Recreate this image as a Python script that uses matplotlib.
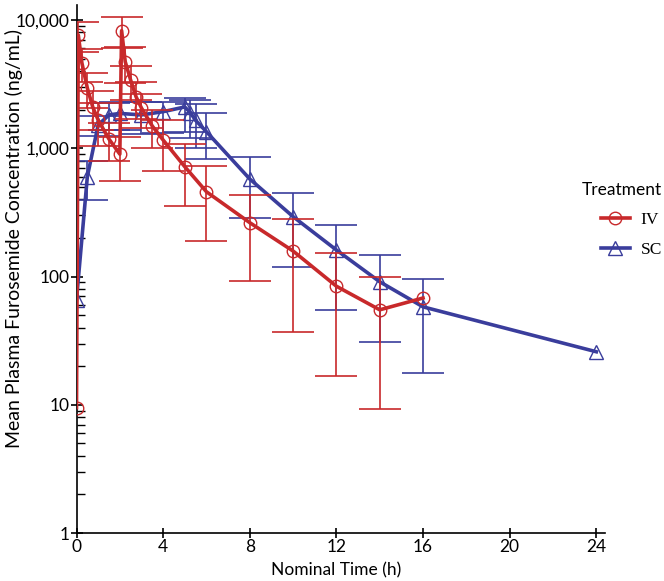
import matplotlib
matplotlib.use("Agg")
import matplotlib.pyplot as plt
import numpy as np
from matplotlib.ticker import FixedLocator, FixedFormatter, LogLocator, NullFormatter
from matplotlib.lines import Line2D

# ---- data ----
iv_time = [0, 0.083, 0.25, 0.5, 0.75, 1, 1.5, 2, 2.083, 2.25, 2.5, 2.75, 3, 3.5, 4, 5, 6, 8, 10, 12, 14, 16]
iv_mean = [9.5, 7640, 4620, 2950, 2100, 1660, 1180, 900, 8260, 4730, 3400, 2520, 2060, 1490, 1160, 718, 458, 263, 158, 84, 55, 68]
iv_lower = [9.5, 5600, 3300, 2050, 1400, 1050, 800, 560, 6000, 3250, 2400, 1700, 1450, 1000, 670, 354, 188, 92, 37, 16.8, 9.2, 68]
iv_upper = [9.5, 9700, 5900, 3850, 2800, 2250, 1580, 1230, 10500, 6200, 4400, 3300, 2650, 2000, 1650, 1080, 728, 432, 279, 152, 100, 68]

sc_time = [0, 0.5, 1, 1.5, 2, 3, 4, 5, 5.25, 5.5, 6, 8, 10, 12, 14, 16, 24]
sc_mean = [66, 600, 1520, 1820, 1870, 1820, 1930, 2100, 1900, 1650, 1346, 576, 293, 161, 91, 58, 25.9]
sc_lower = [66, 395, 1250, 1400, 1400, 1300, 1310, 1346, 1200, 1000, 823, 284, 119, 55, 31, 17.6, 25.9]
sc_upper = [66, 800, 1790, 2250, 2300, 2300, 2310, 2450, 2400, 2200, 1870, 850, 445, 252, 147, 95, 25.9]

x_ticks = [0, 4, 8, 12, 16, 20, 24]
y_ticks = [1, 10, 100, 1000, 10000]
y_tick_labels = ["1", "10", "100", "1,000", "10,000"]
series_names = ["IV", "SC"]
legend_title = "Treatment"

RED = "#C8292B"
BLUE = "#3A3D9C"
SANS = ["Lato", "DejaVu Sans"]
SERIF = ["Liberation Serif", "DejaVu Serif"]

fig = plt.figure(figsize=(6.64, 5.81), dpi=100)
AX_L, AX_B, AX_W, AX_H = 76.5 / 664, 48 / 581, 528.5 / 664, 528 / 581
ax = fig.add_axes([AX_L, AX_B, AX_W, AX_H])


def draw(t, m, lo, hi, color, marker, ms, z):
    t = np.asarray(t); m = np.asarray(m); lo = np.asarray(lo); hi = np.asarray(hi)
    has = (hi > m) | (lo < m)
    ax.errorbar(t[has], m[has], yerr=[m[has] - lo[has], hi[has] - m[has]],
                fmt="none", ecolor=color, elinewidth=1.2, capsize=15,
                capthick=1.2, zorder=z)
    ax.plot(t, m, color=color, lw=2.6, marker=marker, ms=ms, mfc="none",
            mec=color, mew=1.0, zorder=z + 1, clip_on=True)


draw(sc_time, sc_mean, sc_lower, sc_upper, BLUE, "^", 10, 2)
draw(iv_time, iv_mean, iv_lower, iv_upper, RED, "o", 9, 4)

ax.set_yscale("log")
ax.set_xlim(0, 24.4)
ax.set_ylim(1, 13100)

for s in ["top", "right"]:
    ax.spines[s].set_visible(False)
for s in ["left", "bottom"]:
    ax.spines[s].set_linewidth(1.2)
    ax.spines[s].set_color("black")

ax.xaxis.set_major_locator(FixedLocator(x_ticks))
ax.set_xticklabels([str(v) for v in x_ticks], family=SANS, fontsize=12.5)
ax.yaxis.set_major_locator(FixedLocator(y_ticks))
ax.yaxis.set_major_formatter(FixedFormatter(y_tick_labels))
ax.yaxis.set_minor_locator(LogLocator(base=10, subs=np.arange(2, 10)))
ax.yaxis.set_minor_formatter(NullFormatter())
for lab in ax.get_yticklabels():
    lab.set_family(SANS)
    lab.set_fontsize(12.5)

ax.tick_params(axis="y", which="major", direction="inout", length=9, width=1.2, pad=0.5)
ax.tick_params(axis="y", which="minor", direction="in", length=6, width=1.0)
ax.tick_params(axis="x", which="major", direction="inout", length=7, width=1.2, pad=1)

ax.set_xlabel("Nominal Time (h)", family=SANS, fontsize=12.5, labelpad=4)
ax.xaxis.set_label_coords((336 - 76.5) / 528.5, -(562 - 533) / 528)
ax.set_ylabel("Mean Plasma Furosemide Concentration (ng/mL)", family=SANS,
              fontsize=14)
ax.yaxis.set_label_coords((23 - 76.5) / 528.5, (533 - 238) / 528)

handles = [
    Line2D([], [], color=RED, lw=2.6, marker="o", ms=9, mfc="none", mec=RED),
    Line2D([], [], color=BLUE, lw=2.6, marker="^", ms=10, mfc="none", mec=BLUE),
]
leg = fig.legend(handles, series_names, title=legend_title, loc="upper right",
                 bbox_to_anchor=(662 / 664, 1 - 182 / 581), frameon=False,
                 handlelength=1.7, handletextpad=0.6, labelspacing=0.8,
                 prop={"family": SERIF, "size": 12.5},
                 title_fontproperties={"family": SANS, "size": 12.5},
                 borderaxespad=0, borderpad=0)
leg._legend_box.align = "right"

fig.savefig("out.png", dpi=100)
